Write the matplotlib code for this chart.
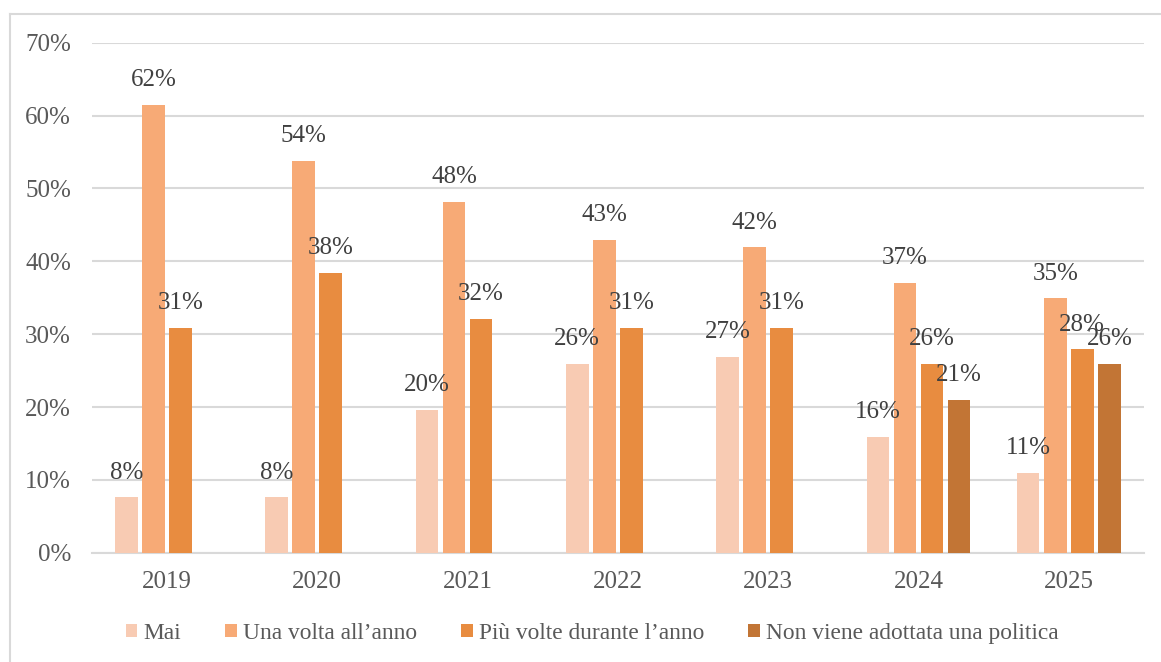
import numpy as np
import matplotlib.pyplot as plt
from matplotlib.lines import Line2D

plt.rcParams['font.family'] = ['Liberation Serif', 'DejaVu Serif']

anni = ['2019', '2020', '2021', '2022', '2023', '2024', '2025']
serie = ['Mai', 'Una volta all\u2019anno', 'Più volte durante l\u2019anno',
         'Non viene adottata una politica']
mai = [7.6, 7.6, 19.6, 25.9, 26.9, 15.9, 10.9]
una_volta = [61.5, 53.8, 48.1, 42.9, 41.9, 37.0, 34.9]
piu_volte = [30.8, 38.4, 32.1, 30.9, 30.9, 25.9, 27.9]
non_adottata = [np.nan, np.nan, np.nan, np.nan, np.nan, 21.0, 25.9]
etichette = [
    ['8%', '8%', '20%', '26%', '27%', '16%', '11%'],
    ['62%', '54%', '48%', '43%', '42%', '37%', '35%'],
    ['31%', '38%', '32%', '31%', '31%', '26%', '28%'],
    ['', '', '', '', '', '21%', '26%'],
]
colori = ['#F8CBB3', '#F7AA76', '#E88C40', '#C27535']

valori = [mai, una_volta, piu_volte, non_adottata]

fig = plt.figure(figsize=(11.61, 6.62), dpi=100)
ax = fig.add_axes([0.079, 0.165, 0.9063, 0.7705])

x = np.arange(len(anni))
passo = 0.18
larghezza = 0.15
for i, (v, col, lab, et) in enumerate(zip(valori, colori, serie, etichette)):
    pos = x + (i - 1.5) * passo
    ax.bar(pos, v, larghezza, color=col, label=lab, zorder=3)
    for xx, yy, t in zip(pos, v, et):
        if t:
            ax.text(xx, yy + 1.9, t, ha='center', va='bottom', fontsize=18,
                    color='#404040', zorder=4)

ax.set_ylim(0, 70)
ax.set_xlim(-0.5, len(anni) - 0.5)
ax.set_yticks(np.arange(0, 71, 10))
ax.set_yticklabels([f'{t}%' for t in range(0, 71, 10)])
ax.set_xticks(x)
ax.set_xticklabels(anni)
ax.tick_params(axis='both', length=0, labelsize=18, labelcolor='#595959')
ax.tick_params(axis='y', pad=15)
ax.tick_params(axis='x', pad=13)
ax.grid(axis='y', color='#D9D9D9', linewidth=1.5, zorder=0)
for s in ['top', 'right', 'left']:
    ax.spines[s].set_visible(False)
ax.spines['bottom'].set_color('#D9D9D9')
ax.spines['bottom'].set_linewidth(1.5)

leg = fig.legend(loc='center', bbox_to_anchor=(0.51, 0.043), ncol=4, frameon=False,
                 fontsize=16.8, handlelength=0.5, handleheight=0.5, handletextpad=0.25,
                 columnspacing=1.9, labelcolor='#595959')

# cornice del grafico
fig.add_artist(Line2D([9.5 / 1161, 1.0], [1 - 14 / 662, 1 - 14 / 662],
                      transform=fig.transFigure, color='#D9D9D9', linewidth=1.5))
fig.add_artist(Line2D([9.5 / 1161, 9.5 / 1161], [0.0, 1 - 14 / 662],
                      transform=fig.transFigure, color='#D9D9D9', linewidth=1.5))

fig.savefig('out.png', dpi=100)
